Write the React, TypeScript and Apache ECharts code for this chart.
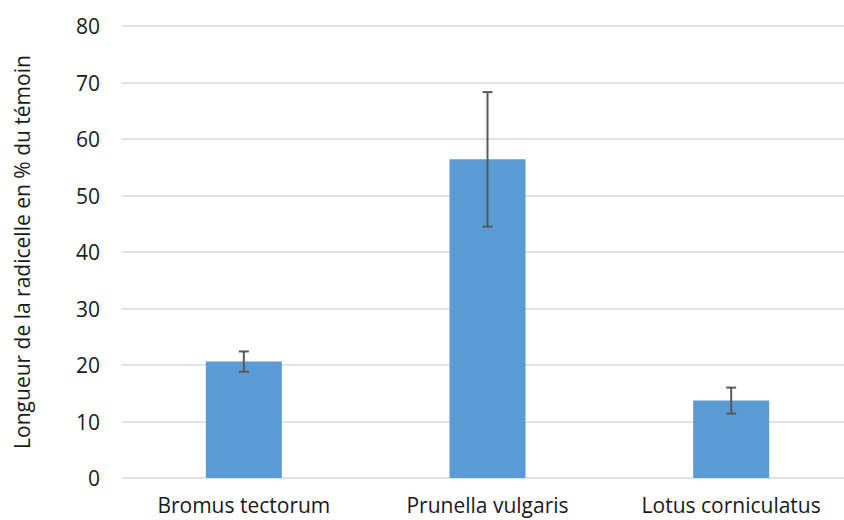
import React, { useEffect, useRef } from "react";
import * as echarts from "echarts";

const categories = ["Bromus tectorum", "Prunella vulgaris", "Lotus corniculatus"];
const values = [20.6, 56.4, 13.7];
const errors = [1.8, 11.9, 2.3];
const yMin = 0;
const yMax = 80;
const yInterval = 10;
const yAxisName = "Longueur de la radicelle en % du témoin";

export default function App() {
  const ref = useRef<HTMLDivElement>(null);
  useEffect(() => {
    if (!ref.current) return;
    const chart = echarts.init(ref.current, undefined, { renderer: "svg" });
    const font = "'Open Sans', sans-serif";
    chart.setOption({
      animation: false,
      grid: { left: 122, right: 0, top: 26, bottom: 42, containLabel: false },
      xAxis: {
        type: "category",
        data: categories,
        axisLine: { show: false },
        axisTick: { show: false },
        axisLabel: { color: "#1a1a1a", fontSize: 21, fontFamily: font, margin: 16 },
      },
      yAxis: {
        type: "value",
        min: yMin,
        max: yMax,
        interval: yInterval,
        name: yAxisName,
        nameLocation: "middle",
        nameGap: 90,
        nameTextStyle: { color: "#1a1a1a", fontSize: 21, fontFamily: font },
        axisLine: { show: false },
        axisTick: { show: false },
        axisLabel: { color: "#1a1a1a", fontSize: 21, fontFamily: font, margin: 22 },
        splitLine: { lineStyle: { color: "#d9d9d9", width: 1.5 } },
      },
      series: [
        {
          type: "bar",
          data: values,
          barWidth: 76,
          itemStyle: { color: "#5b9bd5" },
        },
        {
          type: "custom",
          data: values.map((v, i) => [i, v - errors[i], v + errors[i]]),
          renderItem: (params: any, api: any) => {
            const x = api.value(0);
            const lo = api.coord([x, api.value(1)]);
            const hi = api.coord([x, api.value(2)]);
            const cap = 5;
            const style = { stroke: "#595959", lineWidth: 2, fill: "none" };
            return {
              type: "group",
              children: [
                { type: "line", shape: { x1: lo[0], y1: lo[1], x2: hi[0], y2: hi[1] }, style },
                { type: "line", shape: { x1: hi[0] - cap, y1: hi[1], x2: hi[0] + cap, y2: hi[1] }, style },
                { type: "line", shape: { x1: lo[0] - cap, y1: lo[1], x2: lo[0] + cap, y2: lo[1] }, style },
              ],
            };
          },
          z: 10,
        },
      ],
    });
    return () => chart.dispose();
  }, []);
  return (
    <div style={{ position: "fixed", left: 0, top: 0, width: 844, height: 520, overflow: "hidden", background: "#fff" }}>
      <div ref={ref} style={{ width: 853, height: 520 }} />
    </div>
  );
}
